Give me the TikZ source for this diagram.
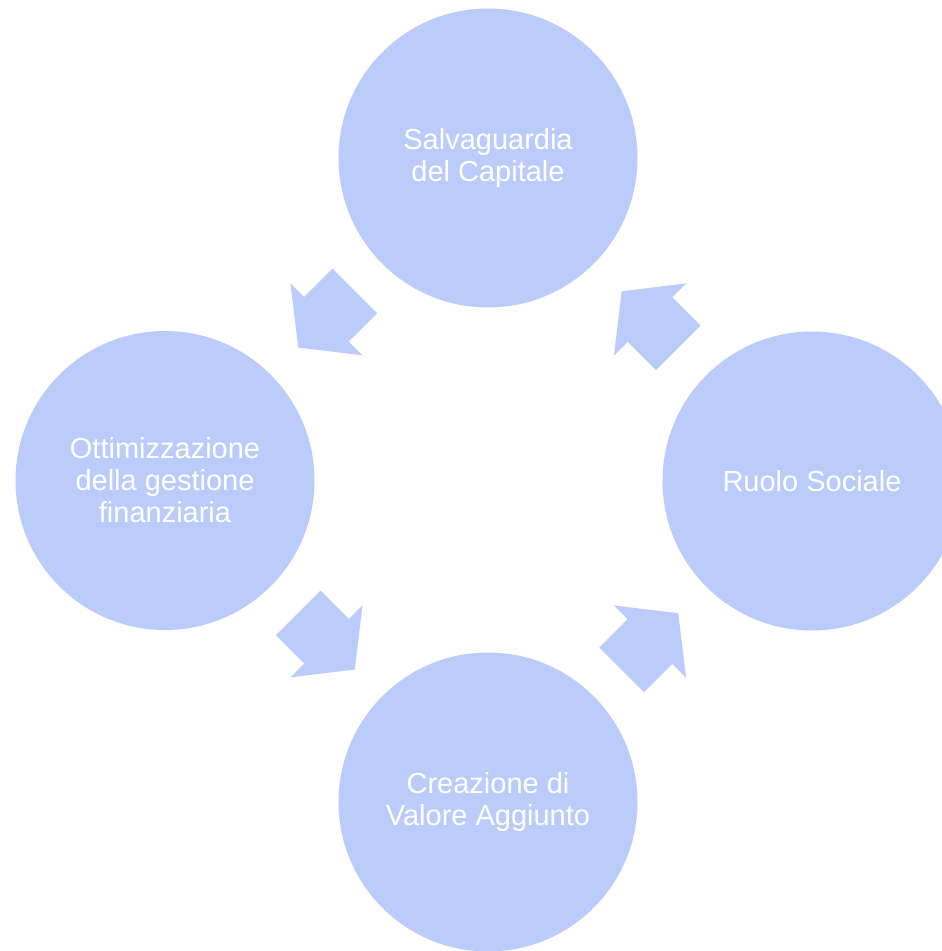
\documentclass[tikz,border=0pt]{standalone}
\usepackage{fontspec}
\setmainfont{Liberation Sans}
\usetikzlibrary{calc}
\definecolor{cycfill}{RGB}{187,203,250}
\begin{document}
\begin{tikzpicture}[x=1pt,y=1pt,
  stagebox/.style={circle,fill=cycfill,minimum size=299pt,inner sep=0pt,text=white,align=center,font=\fontsize{29}{32}\selectfont},
  cycarrow/.pic={\fill[cycfill] (-40,31.5) -- (0,31.5) -- (0,51) -- (40,0) -- (0,-51) -- (0,-31.5) -- (-40,-31.5) -- cycle;}]
\useasboundingbox (0,0) rectangle (942,-951);
\node[stagebox] (top) at (488,-158) {Salvaguardia\\del Capitale};
\node[stagebox] (left) at (165,-480.5) {Ottimizzazione\\della gestione\\finanziaria};
\node[stagebox] (bottom) at (488,-802) {Creazione di\\Valore Aggiunto};
\node[stagebox] (right) at (812,-481) {Ruolo Sociale};
\coordinate (m1) at ($(top)!0.5!(left)$);
\coordinate (m2) at ($(left)!0.5!(bottom)$);
\coordinate (m3) at ($(bottom)!0.5!(right)$);
\coordinate (m4) at ($(right)!0.5!(top)$);
\pic[rotate=225] at (m1) {cycarrow};
\pic[rotate=-45] at (m2) {cycarrow};
\pic[rotate=45] at (m3) {cycarrow};
\pic[rotate=135] at (m4) {cycarrow};
\end{tikzpicture}
\end{document}
